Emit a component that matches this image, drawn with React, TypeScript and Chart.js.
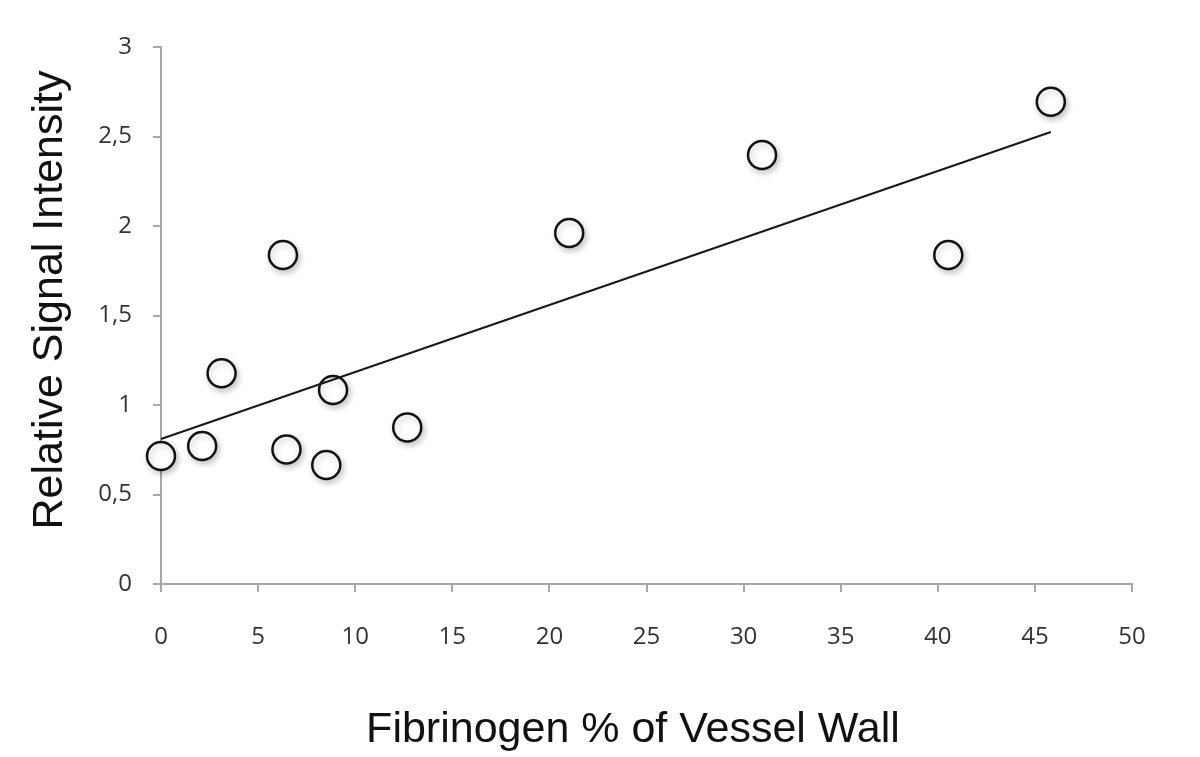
import React, { useEffect, useRef } from "react";
import { Chart, registerables } from "chart.js";

Chart.register(...registerables);

const fibrinogenPct = [0, 2.12, 3.12, 6.28, 6.46, 8.51, 8.86, 12.68, 21.02, 30.95, 40.54, 45.82];
const signalIntensity = [0.715, 0.771, 1.177, 1.838, 0.752, 0.665, 1.084, 0.875, 1.961, 2.397, 1.838, 2.694];

const trendX = [0, 45.82];
const trendY = [0.81, 2.525];

const xTickValues = [0, 5, 10, 15, 20, 25, 30, 35, 40, 45, 50];
const xTickLabels = ["0", "5", "10", "15", "20", "25", "30", "35", "40", "45", "50"];
const yTickValues = [0, 0.5, 1, 1.5, 2, 2.5, 3];
const yTickLabels = ["0", "0,5", "1", "1,5", "2", "2,5", "3"];

const xTitle = "Fibrinogen % of Vessel Wall";
const yTitle = "Relative Signal Intensity";

const W = 1200;
const H = 757;

export default function App() {
  const ref = useRef<HTMLCanvasElement | null>(null);

  useEffect(() => {
    const canvas = ref.current;
    if (!canvas) return;

    const shadowPlugin = {
      id: "pointShadow",
      beforeDatasetDraw(chart: any, args: any) {
        if (args.index === 0) {
          const ctx = chart.ctx;
          ctx.save();
          ctx.shadowColor = "rgba(0,0,0,0.22)";
          ctx.shadowBlur = 6;
          ctx.shadowOffsetX = 2;
          ctx.shadowOffsetY = 3;
        }
      },
      afterDatasetDraw(chart: any, args: any) {
        if (args.index === 0) chart.ctx.restore();
      },
    };

    const titlePlugin = {
      id: "axisTitles",
      afterDraw(chart: any) {
        const ctx = chart.ctx;
        ctx.save();
        ctx.fillStyle = "#111";
        ctx.font = '43px "Liberation Sans", Arial, sans-serif';
        ctx.textAlign = "center";
        ctx.textBaseline = "alphabetic";
        ctx.fillText(xTitle, 633, 742);
        ctx.translate(62, 300);
        ctx.rotate(-Math.PI / 2);
        ctx.fillText(yTitle, 0, 0);
        ctx.restore();
      },
    };

    const chart = new Chart(canvas, {
      type: "scatter",
      data: {
        datasets: [
          {
            label: "Samples",
            data: fibrinogenPct.map((x, i) => ({ x, y: signalIntensity[i] })),
            pointRadius: 14,
            pointHoverRadius: 14,
            pointBackgroundColor: "#ffffff",
            pointBorderColor: "#111111",
            pointBorderWidth: 2.5,
            clip: false,
            order: 1,
          } as any,
          {
            type: "line",
            label: "Trend",
            data: trendX.map((x, i) => ({ x, y: trendY[i] })),
            borderColor: "#1a1a1a",
            borderWidth: 2.2,
            pointRadius: 0,
            fill: false,
            showLine: true,
            clip: false,
            order: 0,
          } as any,
        ],
      },
      options: {
        animation: false,
        responsive: false,
        maintainAspectRatio: false,
        layout: { padding: { left: 0, right: W - 1132, top: 47, bottom: 0 } },
        plugins: {
          legend: { display: false },
          tooltip: { enabled: false },
        },
        scales: {
          x: {
            type: "linear",
            min: 0,
            max: 50,
            afterBuildTicks: (scale: any) => {
              scale.ticks = xTickValues.map((v) => ({ value: v }));
            },
            afterFit: (scale: any) => {
              scale.height = H - 584;
            },
            ticks: {
              padding: 31,
              color: "#333",
              font: { family: '"Open Sans", sans-serif', size: 24 },
              callback: (v: any) => xTickLabels[xTickValues.indexOf(Number(v))] ?? String(v),
              maxRotation: 0,
              autoSkip: false,
            },
            grid: {
              display: true,
              drawOnChartArea: false,
              drawTicks: true,
              tickLength: 8,
              color: "#a8a8a8",
              lineWidth: 2,
            },
            border: { display: true, color: "#a8a8a8", width: 2 },
            title: { display: false },
          },
          y: {
            type: "linear",
            min: 0,
            max: 3,
            afterBuildTicks: (scale: any) => {
              scale.ticks = yTickValues.map((v) => ({ value: v }));
            },
            afterFit: (scale: any) => {
              scale.width = 161;
            },
            ticks: {
              padding: 21,
              color: "#333",
              font: { family: '"Open Sans", sans-serif', size: 24 },
              callback: (v: any) => yTickLabels[yTickValues.indexOf(Number(v))] ?? String(v),
              autoSkip: false,
            },
            grid: {
              display: true,
              drawOnChartArea: false,
              drawTicks: true,
              tickLength: 8,
              color: "#a8a8a8",
              lineWidth: 2,
            },
            border: { display: true, color: "#a8a8a8", width: 2 },
            title: { display: false },
          },
        },
      },
      plugins: [shadowPlugin, titlePlugin],
    });

    return () => chart.destroy();
  }, []);

  return (
    <div style={{ position: "fixed", left: 0, top: 0, width: W, height: H, background: "#fff" }}>
      <canvas ref={ref} width={W} height={H} style={{ width: W, height: H, display: "block" }} />
    </div>
  );
}
